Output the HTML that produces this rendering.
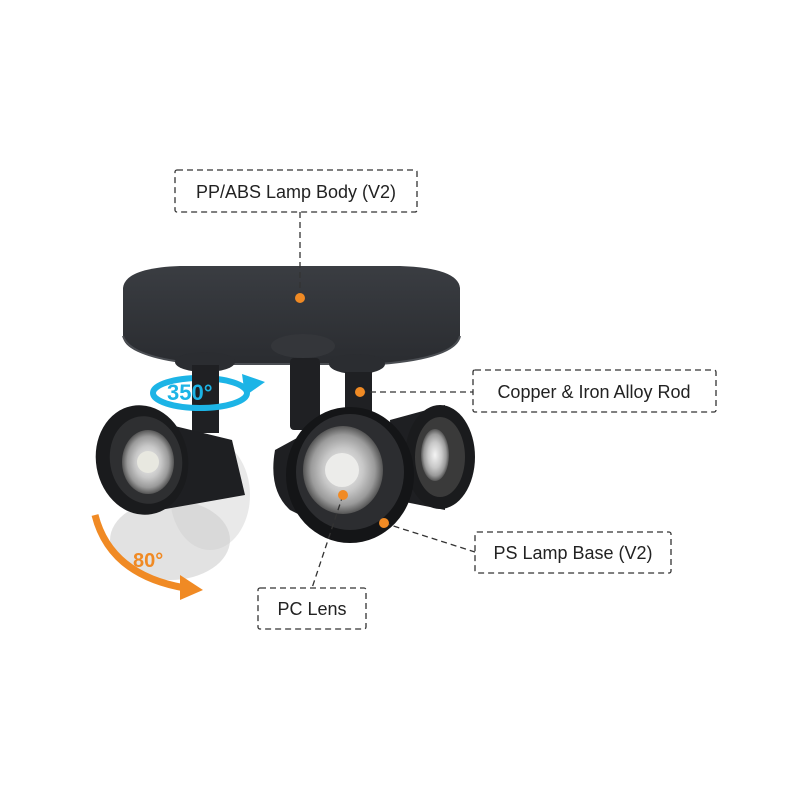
<!DOCTYPE html>
<html><head><style>
body{margin:0;background:#fff}
svg{display:block}
.lb{font-family:"Liberation Sans",sans-serif;font-size:18px;fill:#222}
</style></head><body>
<svg width="800" height="800" viewBox="0 0 800 800" xmlns="http://www.w3.org/2000/svg">
<defs>
<radialGradient id="lens" cx="50%" cy="50%" r="50%">
<stop offset="0" stop-color="#f4f4f4"/><stop offset="0.5" stop-color="#c8c8c8"/><stop offset="0.8" stop-color="#9a9a9a"/><stop offset="1" stop-color="#555"/>
</radialGradient>
<linearGradient id="disc" x1="0" y1="0" x2="0" y2="1">
<stop offset="0" stop-color="#3a3d42"/><stop offset="1" stop-color="#2a2c30"/>
</linearGradient>
</defs>
<path d="M123 288 Q125 268 180 266 L400 266 Q458 268 460 288 L460 338 Q455 358 380 364 L200 364 Q128 358 123 338 Z" fill="url(#disc)"/>
<path d="M123 336 Q130 358 200 364 L380 364 Q455 358 460 336" fill="none" stroke="#4a4d52" stroke-width="2"/>
<ellipse cx="205" cy="362" rx="30" ry="10" fill="#2b2d31"/>
<ellipse cx="303" cy="346" rx="32" ry="12" fill="#34363a"/>
<ellipse cx="357" cy="364" rx="28" ry="10" fill="#2b2d31"/>
<rect x="192" y="365" width="27" height="68" fill="#1f2023"/>
<rect x="290" y="358" width="30" height="72" rx="4" fill="#1f2023"/>
<rect x="345" y="372" width="27" height="48" fill="#1f2023"/>
<ellipse cx="200" cy="393" rx="47" ry="15" fill="none" stroke="#1cb4e6" stroke-width="6"/>
<rect x="192" y="370" width="27" height="16" fill="#1f2023"/>
<polygon points="242,374 265,382 245,396" fill="#1cb4e6"/>
<text x="167" y="400" font-family="Liberation Sans,sans-serif" font-weight="bold" font-size="22" fill="#1cb4e6">350°</text>
<ellipse cx="210" cy="495" rx="40" ry="55" fill="#e4e4e4" opacity="0.8"/>
<ellipse cx="170" cy="540" rx="60" ry="40" fill="#cfcfcf" opacity="0.6"/>
<path d="M390 420 L445 405 L445 510 L395 500 Z" fill="#1e1f22"/>
<ellipse cx="440" cy="457" rx="35" ry="52" fill="#1a1b1d"/>
<ellipse cx="440" cy="457" rx="25" ry="40" fill="#3a3a3a"/>
<ellipse cx="435" cy="455" rx="14" ry="26" fill="url(#lens)"/>
<path d="M150 420 L232 440 L245 495 L160 510 Z" fill="#1e1f22"/>
<ellipse cx="142" cy="460" rx="46" ry="55" fill="#1a1b1d" transform="rotate(-10 142 460)"/>
<ellipse cx="146" cy="460" rx="36" ry="44" fill="#2e2f31" transform="rotate(-10 146 460)"/>
<ellipse cx="148" cy="462" rx="26" ry="32" fill="url(#lens)"/>
<circle cx="148" cy="462" r="11" fill="#e8e8e0"/>
<path d="M275 450 L330 420 L340 535 L290 510 Q268 490 275 450 Z" fill="#1e1f22"/>
<ellipse cx="350" cy="475" rx="64" ry="68" fill="#141517"/>
<ellipse cx="350" cy="472" rx="54" ry="58" fill="#2c2d30"/>
<ellipse cx="343" cy="470" rx="40" ry="44" fill="url(#lens)"/>
<circle cx="342" cy="470" r="17" fill="#ececea"/>
<path d="M95 515 Q110 575 185 588" fill="none" stroke="#f08a24" stroke-width="7"/>
<polygon points="180,575 203,590 180,600" fill="#f08a24"/>
<text x="133" y="567" font-family="Liberation Sans,sans-serif" font-weight="bold" font-size="20" fill="#f08a24">80°</text>
<g fill="none" stroke="#333" stroke-width="1.3" stroke-dasharray="6,4">
<rect x="175" y="170" width="242" height="42" rx="2"/>
<line x1="300" y1="212" x2="300" y2="298"/>
<rect x="473" y="370" width="243" height="42" rx="2"/>
<line x1="360" y1="392" x2="473" y2="392"/>
<rect x="475" y="532" width="196" height="41" rx="2"/>
<line x1="384" y1="523" x2="475" y2="552"/>
<rect x="258" y="588" width="108" height="41" rx="2"/>
<line x1="343" y1="495" x2="312" y2="588"/>
</g>
<g fill="#f08a24">
<circle cx="300" cy="298" r="5"/><circle cx="360" cy="392" r="5"/><circle cx="384" cy="523" r="5"/><circle cx="343" cy="495" r="5"/>
</g>
<text class="lb" x="296" y="198" text-anchor="middle">PP/ABS Lamp Body (V2)</text>
<text class="lb" x="594" y="398" text-anchor="middle">Copper &amp; Iron Alloy Rod</text>
<text class="lb" x="573" y="559" text-anchor="middle">PS Lamp Base (V2)</text>
<text class="lb" x="312" y="615" text-anchor="middle">PC Lens</text>
</svg>
</body></html>
